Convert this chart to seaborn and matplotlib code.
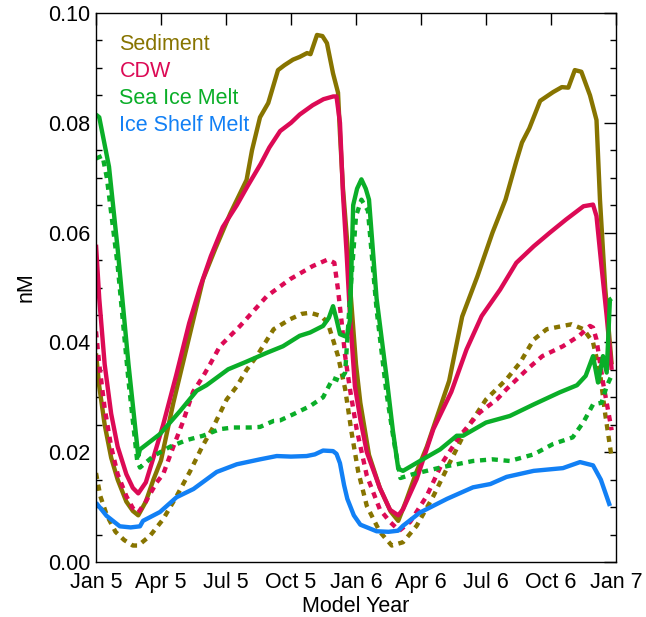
import matplotlib
matplotlib.use("Agg")
import matplotlib.pyplot as plt
from matplotlib.ticker import MultipleLocator, FixedLocator, FormatStrFormatter
import seaborn as sns

# Time axis: months since 1 Jan of model year 5
sed_solid_t = [0, 0.15, 0.4, 0.7, 1.0, 1.4, 1.7, 1.95, 2.3, 2.65, 3.0, 3.57, 4.18, 4.94,
               5.5, 6.2, 6.95, 7.2, 7.57, 7.95, 8.4, 8.7, 9.09, 9.4, 9.74, 9.9, 10.2, 10.45,
               10.66, 10.94, 11.17, 11.26, 11.4, 11.6, 11.75, 12.0, 12.2, 12.6, 13.1, 13.6,
               13.95, 14.3, 14.8, 15.27, 15.7, 16.3, 16.9, 17.6, 18.3, 18.9, 19.4, 19.66,
               20.0, 20.5, 21.1, 21.5, 21.8, 22.1, 22.4, 22.8, 23.1, 23.26, 23.5, 23.8]
sed_solid_v = [0.038, 0.032, 0.025, 0.019, 0.015, 0.011, 0.0093, 0.0085, 0.011, 0.015,
               0.0185, 0.029, 0.039, 0.0515, 0.057, 0.0635, 0.0696, 0.075, 0.081, 0.0836,
               0.0896, 0.0905, 0.0915, 0.092, 0.0927, 0.0925, 0.096, 0.0958, 0.0945, 0.089,
               0.0855, 0.078, 0.068, 0.058, 0.049, 0.036, 0.029, 0.0195, 0.0135, 0.0092,
               0.0075, 0.011, 0.0165, 0.021, 0.026, 0.033, 0.0447, 0.052, 0.060, 0.066,
               0.073, 0.0764, 0.079, 0.084, 0.0856, 0.0865, 0.0864, 0.0896, 0.0893, 0.085,
               0.0805, 0.066, 0.05, 0.036]

sed_dot_t = [0, 0.2, 0.5, 0.9, 1.3, 1.7, 1.95, 2.5, 3.1, 3.72, 4.34, 4.9, 5.4, 6.03, 6.5,
             6.95, 7.42, 8.2, 8.95, 9.5, 9.88, 10.4, 10.7, 10.94, 11.17, 11.5, 11.8, 12.1,
             12.5, 13.1, 13.65, 14.17, 14.8, 15.57, 16.34, 17.1, 18.0, 18.95, 19.57, 20.2,
             20.8, 21.55, 21.95, 22.5, 22.94, 23.26, 23.5, 23.8]
sed_dot_v = [0.0162, 0.012, 0.0085, 0.0055, 0.004, 0.003, 0.003, 0.0048, 0.0078, 0.012,
             0.0165, 0.021, 0.0245, 0.0296, 0.032, 0.035, 0.0375, 0.0424, 0.0442, 0.0452,
             0.0454, 0.0448, 0.0435, 0.0405, 0.0375, 0.0315, 0.0235, 0.0165, 0.0102, 0.0055,
             0.003, 0.0036, 0.0066, 0.012, 0.0182, 0.0242, 0.0296, 0.0333, 0.0363, 0.0405,
             0.0424, 0.043, 0.0433, 0.0424, 0.040, 0.0345, 0.027, 0.019]

cdw_solid_t = [0, 0.15, 0.4, 0.7, 1.0, 1.4, 1.7, 1.95, 2.3, 2.65, 3.1, 3.7, 4.3, 4.8, 5.3,
               5.85, 6.5, 7.0, 7.6, 8.0, 8.5, 9.0, 9.4, 10.0, 10.5, 10.95, 11.1, 11.26, 11.4,
               11.57, 11.72, 11.95, 12.2, 12.5, 13.1, 13.57, 13.95, 14.17, 14.8, 15.57, 16.4,
               17.1, 17.8, 18.65, 19.4, 20.2, 20.95, 21.7, 22.5, 22.94, 23.1, 23.33, 23.57, 23.8]
cdw_solid_v = [0.0578, 0.048, 0.036, 0.027, 0.021, 0.016, 0.0135, 0.0125, 0.0145, 0.019,
               0.025, 0.034, 0.0435, 0.050, 0.0557, 0.061, 0.065, 0.0685, 0.0725, 0.0755,
               0.0785, 0.080, 0.0815, 0.0832, 0.0843, 0.0848, 0.0848, 0.080, 0.067, 0.056,
               0.045, 0.032, 0.026, 0.020, 0.0135, 0.0095, 0.0085, 0.0096, 0.0151, 0.0242,
               0.031, 0.0387, 0.0448, 0.0496, 0.0545, 0.0575, 0.060, 0.0624, 0.0648, 0.0651,
               0.063, 0.0539, 0.0448, 0.035]

cdw_dot_t = [0, 0.15, 0.4, 0.7, 1.0, 1.4, 1.7, 1.95, 2.3, 2.8, 3.1, 3.57, 4.0, 4.48, 4.94,
             5.26, 5.72, 6.65, 7.88, 8.95, 10.0, 10.7, 11.0, 11.17, 11.34, 11.5, 11.72, 12.03,
             12.5, 13.1, 13.57, 14.0, 14.5, 15.26, 16.0, 16.8, 17.7, 18.5, 18.95, 19.9, 20.6,
             21.55, 22.3, 22.8, 22.94, 23.1, 23.4, 23.8]
cdw_dot_v = [0.042, 0.036, 0.028, 0.021, 0.016, 0.012, 0.0098, 0.009, 0.011, 0.0145, 0.016,
             0.021, 0.0254, 0.031, 0.0338, 0.036, 0.0393, 0.043, 0.0484, 0.0515, 0.0539,
             0.0551, 0.0545, 0.0496, 0.0436, 0.0375, 0.0315, 0.0242, 0.0157, 0.0096, 0.0073,
             0.0057, 0.0073, 0.012, 0.0182, 0.023, 0.0272, 0.0296, 0.0315, 0.0351, 0.0375,
             0.0393, 0.0412, 0.043, 0.0427, 0.0405, 0.0327, 0.024]

sea_solid_t = [0, 0.15, 0.6, 1.0, 1.5, 1.95, 2.03, 2.95, 3.88, 4.65, 5.1, 6.1, 6.95, 7.88,
               8.63, 9.4, 9.88, 10.48, 10.75, 10.94, 11.1, 11.26, 11.57, 11.72, 11.87, 12.05,
               12.25, 12.45, 12.6, 12.95, 13.4, 13.7, 13.95, 14.17, 14.95, 15.88, 16.65, 16.94,
               18.0, 19.1, 20.2, 21.4, 22.2, 22.6, 22.94, 23.17, 23.4, 23.57, 23.72, 23.8]
sea_solid_v = [0.0815, 0.081, 0.072, 0.057, 0.036, 0.0193, 0.0205, 0.0233, 0.0275, 0.0312,
               0.0322, 0.0351, 0.0365, 0.0381, 0.0393, 0.0412, 0.0418, 0.043, 0.0445, 0.0466,
               0.0442, 0.0415, 0.041, 0.044, 0.065, 0.068, 0.0697, 0.068, 0.066, 0.048, 0.034,
               0.024, 0.017, 0.0166, 0.0184, 0.0205, 0.023, 0.023, 0.0254, 0.0266, 0.0287,
               0.0309, 0.0322, 0.0339, 0.0375, 0.0327, 0.0375, 0.0345, 0.0478, 0.048]

sea_dot_t = [0, 0.3, 0.5, 1.0, 1.5, 1.9, 2.03, 2.65, 3.42, 4.18, 4.94, 5.72, 6.33, 7.1,
             7.57, 8.2, 8.5, 9.1, 9.88, 10.48, 10.94, 11.26, 11.5, 11.72, 12.0, 12.25, 12.55,
             12.95, 13.4, 13.75, 14.05, 14.63, 15.26, 16.0, 16.65, 17.4, 18.3, 19.1, 20.2,
             21.1, 22.0, 22.5, 22.94, 23.33, 23.57, 23.8]
sea_dot_v = [0.0735, 0.074, 0.070, 0.054, 0.033, 0.0185, 0.0172, 0.0193, 0.021, 0.0222,
             0.023, 0.0242, 0.0245, 0.0245, 0.0246, 0.0257, 0.0258, 0.0269, 0.0284, 0.030,
             0.0335, 0.033, 0.0345, 0.048, 0.063, 0.066, 0.064, 0.046, 0.031, 0.022, 0.0153,
             0.016, 0.0166, 0.0173, 0.0178, 0.0184, 0.0187, 0.0184, 0.0196, 0.0215, 0.0227,
             0.0255, 0.0287, 0.029, 0.032, 0.034]

shelf_t = [0, 0.49, 1.1, 1.6, 2.03, 2.17, 2.95, 3.72, 4.5, 5.57, 6.5, 7.57, 8.34, 9.0, 9.72,
           10.1, 10.48, 10.94, 11.1, 11.26, 11.45, 11.6, 11.9, 12.2, 12.95, 13.5, 13.94, 14.17,
           14.95, 16.2, 17.4, 18.2, 18.95, 20.2, 21.55, 22.34, 22.94, 23.3, 23.72]
shelf_v = [0.0108, 0.0084, 0.0065, 0.0063, 0.0065, 0.0075, 0.0091, 0.0118, 0.0133, 0.0164,
           0.0178, 0.0187, 0.0193, 0.0192, 0.0193, 0.0196, 0.0203, 0.0202, 0.0197, 0.018,
           0.014, 0.0115, 0.0085, 0.0068, 0.0056, 0.0055, 0.0057, 0.0066, 0.009, 0.0115,
           0.0136, 0.0142, 0.0155, 0.0166, 0.0171, 0.0182, 0.0176, 0.015, 0.0102]

tick_months = [0, 3, 6, 9, 12, 15, 18, 21, 24]
tick_labels = ["Jan 5", "Apr 5", "Jul 5", "Oct 5", "Jan 6", "Apr 6", "Jul 6", "Oct 6", "Jan 7"]

OLIVE = "#877400"
CRIMSON = "#dc0a55"
GREEN = "#0aae28"
BLUE = "#1280f5"

sns.set_style("white")
plt.rcParams["font.family"] = ["Liberation Sans", "DejaVu Sans"]

fig = plt.figure(figsize=(6.46, 6.17), dpi=100)
ax = fig.add_axes([96 / 646, 1 - 562 / 617, 520 / 646, 549 / 617])

LW = 3.15
DOT = (0, (1.4, 1.3))
series = [
    ("Sediment", sed_solid_t, sed_solid_v, OLIVE, "-"),
    ("_sed_dot", sed_dot_t, sed_dot_v, OLIVE, DOT),
    ("CDW", cdw_solid_t, cdw_solid_v, CRIMSON, "-"),
    ("_cdw_dot", cdw_dot_t, cdw_dot_v, CRIMSON, DOT),
    ("Sea Ice Melt", sea_solid_t, sea_solid_v, GREEN, "-"),
    ("_sea_dot", sea_dot_t, sea_dot_v, GREEN, DOT),
    ("Ice Shelf Melt", shelf_t, shelf_v, BLUE, "-"),
]
for label, t, v, color, ls in series:
    sns.lineplot(x=t, y=v, ax=ax, color=color, linestyle=ls, linewidth=LW,
                 label=label, solid_joinstyle="round", solid_capstyle="butt")

ax.set_xlim(0, 24)
ax.set_ylim(0, 0.1)
ax.xaxis.set_major_locator(FixedLocator(tick_months))
ax.set_xticklabels(tick_labels)
ax.yaxis.set_major_locator(MultipleLocator(0.02))
ax.yaxis.set_minor_locator(MultipleLocator(0.005))
ax.yaxis.set_major_formatter(FormatStrFormatter("%.2f"))

ax.tick_params(axis="both", which="major", direction="in", length=8.5, width=1.0,
               top=True, right=True, labelsize=15.5, color="black", labelcolor="black")
ax.tick_params(axis="x", pad=7)
ax.tick_params(axis="y", pad=4)
ax.tick_params(axis="y", which="minor", direction="in", length=4.5, width=1.0,
               left=True, right=True, color="black")
for sp in ax.spines.values():
    sp.set_color("black")
    sp.set_linewidth(1.0)

ax.set_xlabel("Model Year", fontsize=15.5, labelpad=2, color="black")
ax.set_ylabel("nM", fontsize=15.5, labelpad=8, color="black")

handles, labels = ax.get_legend_handles_labels()
leg = ax.legend(handles, labels, loc="upper left", bbox_to_anchor=(0.045, 0.961),
                frameon=False, handlelength=0, handletextpad=0, borderaxespad=0,
                borderpad=0, labelspacing=0.28, fontsize=15.5, labelcolor="linecolor")
for h in leg.legend_handles:
    h.set_visible(False)

fig.savefig("out.png", dpi=100)
